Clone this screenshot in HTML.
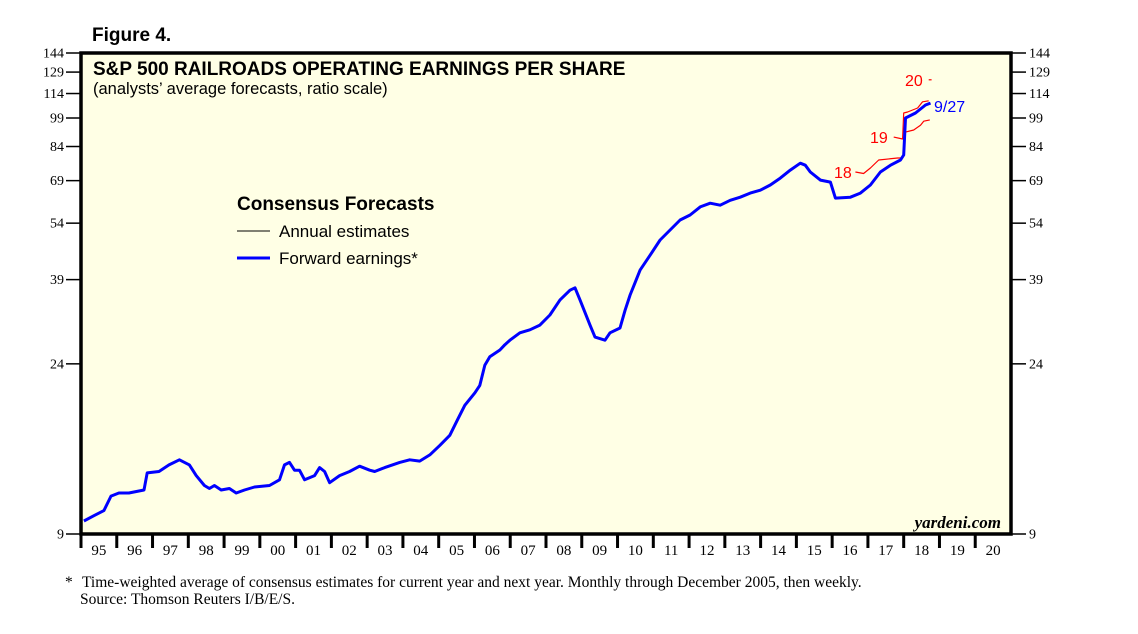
<!DOCTYPE html>
<html><head><meta charset="utf-8">
<style>
body{margin:0;background:#fff;}
svg{display:block;}
</style></head>
<body>
<svg id="chart" width="1138" height="634" xmlns="http://www.w3.org/2000/svg">
<rect x="81" y="53" width="930" height="481" fill="#FFFFE5"/>
<text x="92" y="41" font-family="Liberation Sans, sans-serif" font-weight="bold" font-size="19">Figure 4.</text>
<text x="93" y="75" font-family="Liberation Sans, sans-serif" font-weight="bold" font-size="19">S&amp;P 500 RAILROADS OPERATING EARNINGS PER SHARE</text>
<text x="93" y="94" font-family="Liberation Sans, sans-serif" font-size="16.5">(analysts’ average forecasts, ratio scale)</text>
<g>
<text x="237" y="210" font-family="Liberation Sans, sans-serif" font-weight="bold" font-size="19">Consensus Forecasts</text>
<line x1="237" y1="231" x2="270" y2="231" stroke="#000" stroke-width="1"/>
<text x="279" y="237" font-family="Liberation Sans, sans-serif" font-size="17">Annual estimates</text>
<line x1="237" y1="258" x2="270" y2="258" stroke="#0000ff" stroke-width="3"/>
<text x="279" y="264" font-family="Liberation Sans, sans-serif" font-size="17">Forward earnings*</text>
</g>
<text x="1001" y="528" text-anchor="end" font-family="Liberation Serif, serif" font-style="italic" font-weight="bold" font-size="17">yardeni.com</text>
<text x="65" y="587" font-family="Liberation Serif, serif" font-size="15.5">*</text>
<text x="82" y="587" font-family="Liberation Serif, serif" font-size="15.5">Time-weighted average of consensus estimates for current year and next year. Monthly through December 2005, then weekly.</text>
<text x="80" y="604" font-family="Liberation Serif, serif" font-size="15.5">Source: Thomson Reuters I/B/E/S.</text>
<g id="axes"></g>
<g id="series"></g>
<rect x="81" y="53" width="930" height="481" fill="none" stroke="#000" stroke-width="3.5"/>
</svg>
<script>
const yTicks=[9,24,39,54,69,84,99,114,129,144];
const xYears=["95","96","97","98","99","00","01","02","03","04","05","06","07","08","09","10","11","12","13","14","15","16","17","18","19","20"];
const fwdDates=[1995.08,1995.36,1995.64,1995.84,1996.06,1996.34,1996.76,1996.85,1997.18,1997.46,1997.75,1998.03,1998.22,1998.45,1998.59,1998.73,1998.92,1999.15,1999.34,1999.57,1999.85,2000.27,2000.55,2000.69,2000.83,2000.97,2001.11,2001.25,2001.53,2001.67,2001.81,2001.95,2002.23,2002.51,2002.79,2003.07,2003.21,2003.49,2003.91,2004.19,2004.47,2004.75,2005.03,2005.31,2005.53,2005.73,2006.01,2006.15,2006.29,2006.43,2006.71,2006.85,2006.99,2007.27,2007.55,2007.83,2008.11,2008.39,2008.67,2008.81,2008.95,2009.23,2009.37,2009.65,2009.79,2010.07,2010.21,2010.35,2010.63,2010.91,2011.19,2011.47,2011.75,2012.03,2012.31,2012.59,2012.87,2013.15,2013.43,2013.71,2013.99,2014.27,2014.55,2014.83,2015.11,2015.25,2015.39,2015.67,2015.95,2016.09,2016.51,2016.79,2017.07,2017.35,2017.63,2017.91,2018.0,2018.05,2018.33,2018.61,2018.75];
const fwdValues=[9.7,10.0,10.3,11.2,11.4,11.4,11.6,12.8,12.9,13.4,13.8,13.4,12.6,11.9,11.7,11.9,11.6,11.7,11.4,11.6,11.8,11.9,12.3,13.4,13.6,13.0,13.0,12.3,12.6,13.2,12.9,12.1,12.6,12.9,13.3,13.0,12.9,13.2,13.6,13.8,13.7,14.2,15.0,15.9,17.4,18.9,20.3,21.2,23.8,25.0,26.0,26.8,27.5,28.7,29.2,30.0,31.8,34.7,36.7,37.2,34.7,30.0,28.0,27.5,28.7,29.5,32.7,35.7,41.2,44.9,49.0,51.9,55.0,56.6,59.3,60.6,59.9,61.6,62.7,64.2,65.3,67.3,70.0,73.3,76.3,75.4,72.5,69.2,68.4,62.4,62.7,64.2,67.3,72.5,75.4,77.7,80.0,99.0,101.9,106.7,107.9];
const est18Dates=[2016.65,2016.88,2017.07,2017.30,2017.83,2017.97];
const est18Values=[72.5,71.9,74.2,77.7,78.6,78.6];
const est19Dates=[2017.72,2017.97,2018.0,2018.11,2018.39,2018.53,2018.70];
const est19Values=[88.7,87.7,101.9,102.5,104.9,108.7,109.3];
const est19bDates=[2018.05,2018.28,2018.47,2018.56,2018.73];
const est19bValues=[91.3,92.4,95.0,97.2,97.9];
const est20Dates=[2018.70,2018.78];
const est20Values=[123.4,123.4];

const L=81,R=1011,T=53,B=534,NS="http://www.w3.org/2000/svg";
const x=d=>L+(d-1995)*(R-L)/26;
const y=v=>B-(Math.log(v/9)/Math.log(16))*(B-T);
const axes=document.getElementById('axes'),series=document.getElementById('series');
function mk(tag,attrs,parent){const e=document.createElementNS(NS,tag);for(const k in attrs)e.setAttribute(k,attrs[k]);parent.appendChild(e);return e;}
yTicks.forEach(v=>{
  const yy=y(v);
  const a=mk('line',{x1:66,y1:yy,x2:81,y2:yy,stroke:'#000','stroke-width':1.5},axes);
  
  
  const b=mk('line',{x1:1011,y1:yy,x2:1026,y2:yy,stroke:'#000','stroke-width':1.5},axes);
  
  
  const t1=mk('text',{x:64,y:yy+4.5,'text-anchor':'end','font-family':'Liberation Serif, serif','font-size':14},axes);
  t1.textContent=v;
  
  
  const t2=mk('text',{x:1029,y:yy+4.5,'font-family':'Liberation Serif, serif','font-size':14},axes);
  t2.textContent=v;
  
  
});
xYears.forEach((lab,i)=>{
  const xx=x(1995+i);
  const tk=mk('line',{x1:xx,y1:534,x2:xx,y2:548,stroke:'#000','stroke-width':3},axes);
  
  
  const t=mk('text',{x:x(1995.5+i),y:555,'text-anchor':'middle','font-family':'Liberation Serif, serif','font-size':15},axes);
  t.textContent=lab;
  
  
});
function line(ds,vs,color,w,name){
  const p=ds.map((d,i)=>x(d).toFixed(1)+','+y(vs[i]).toFixed(1)).join(' ');
  const e=mk('polyline',{points:p,fill:'none',stroke:color,'stroke-width':w,'stroke-linejoin':'round'},series);
  
  
}
line(est18Dates,est18Values,'#ff0000',1.2,'annual-estimate-2018');
line(est19Dates,est19Values,'#ff0000',1.2,'annual-estimate-2019');
line(est19bDates,est19bValues,'#ff0000',1.2,'annual-estimate-2019-b');
line(est20Dates,est20Values,'#ff0000',1.2,'annual-estimate-2020');
line(fwdDates,fwdValues,'#0000ff',3,'forward-earnings-line');
function lbl(tx,xx,yy,color,name){
  const t=mk('text',{x:xx,y:yy,'font-family':'Liberation Sans, sans-serif','font-size':16,fill:color},series);
  t.textContent=tx;
  
  
}
lbl('18',834,178,'#ff0000','label-18');
lbl('19',870,143,'#ff0000','label-19');
lbl('20',905,86,'#ff0000','label-20');
lbl('9/27',934,112,'#0000ff','label-latest-date');
</script>
</body></html>
